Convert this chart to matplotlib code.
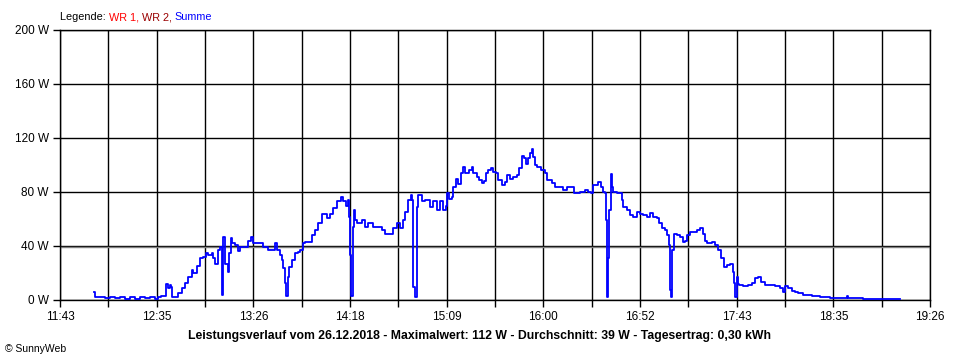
import numpy as np
import matplotlib
matplotlib.use("Agg")
import matplotlib.pyplot as plt

# Tagesverlauf 26.12.2018, Zeit in Minuten seit Mitternacht, Leistung in W
zeit = [721.1, 721.4, 724.3, 726.9, 729.6, 732.3, 734.9, 737.6, 740.3, 742.9,
        745.6, 748.2, 750.9, 753.6, 755.2, 756.7, 758.9, 759.4, 760.5, 761.5,
        762.1, 762.6, 764.7, 765.8, 767.8, 769.5, 771.1, 773.1, 773.8, 775.7,
        777.5, 779.1, 780.5, 781.8, 783.7, 784.4, 785.5, 786.9, 788.1, 789.1,
        789.7, 790.8, 792.2, 792.9, 794.0, 794.7, 796.1, 797.6, 798.8, 800.5,
        802.0, 803.2, 804.6, 805.9, 807.7, 810.3, 811.0, 813.0, 813.7, 816.4,
        817.4, 818.6, 820.1, 821.0, 821.8, 822.7, 823.3, 824.2, 825.0, 826.3,
        828.1, 829.8, 830.7, 832.2, 833.4, 835.7, 837.0, 838.7, 840.5, 842.3,
        844.0, 845.3, 846.7, 848.1, 850.3, 852.4, 853.8, 855.2, 856.1, 857.0,
        857.3, 857.9, 858.8, 859.5, 860.0, 861.2, 863.6, 865.3, 867.1, 869.7,
        872.4, 874.2, 876.0, 878.6, 880.4, 882.2, 883.9, 885.4, 886.6, 888.4,
        889.6, 890.5, 891.0, 892.1, 892.8, 893.7, 895.5, 897.2, 899.9, 901.7,
        903.5, 905.2, 906.7, 908.4, 909.1, 910.2, 911.5, 912.3, 913.7, 915.0,
        916.2, 917.3, 918.5, 920.8, 922.1, 923.0, 924.8, 926.1, 927.4, 928.6,
        929.7, 930.9, 932.2, 933.6, 935.0, 936.3, 938.1, 939.8, 941.0, 942.5,
        944.2, 946.0, 947.4, 948.7, 949.9, 951.0, 952.2, 953.1, 954.0, 954.9,
        955.8, 957.0, 958.8, 960.2, 961.1, 962.3, 964.7, 966.4, 969.1, 970.8,
        972.7, 975.3, 976.5, 979.7, 982.4, 984.2, 985.4, 986.8, 987.7, 989.5,
        990.8, 991.8, 992.9, 993.4, 993.9, 994.3, 994.8, 995.2, 996.1, 996.6,
        997.5, 999.3, 1000.7, 1001.9, 1002.8, 1004.6, 1006.3, 1008.1, 1009.9, 1011.7,
        1013.4, 1015.2, 1017.0, 1018.7, 1020.6, 1021.9, 1023.2, 1025.0, 1026.2, 1026.9,
        1027.6, 1028.3, 1028.9, 1029.8, 1031.2, 1033.0, 1034.4, 1035.6, 1036.5, 1038.3,
        1040.0, 1041.8, 1043.6, 1045.0, 1046.3, 1047.5, 1049.8, 1051.6, 1053.3, 1054.6,
        1056.4, 1057.8, 1059.6, 1061.0, 1061.7, 1062.1, 1063.1, 1064.0, 1064.5, 1066.6,
        1069.3, 1071.1, 1072.9, 1074.6, 1075.9, 1078.2, 1080.9, 1083.5, 1086.2, 1087.9,
        1088.8, 1090.6, 1092.4, 1094.2, 1095.9, 1098.6, 1103.0, 1107.5, 1112.8, 1121.3,
        1121.8, 1122.4, 1130.3, 1134.1, 1139.4, 1144.7, 1150.0]
leistung = [6, 2, 2.5, 1.5, 2.5, 1.5, 2, 1, 2, 1,
            2, 1.5, 2, 1, 2, 3, 3, 12, 9, 11,
            10, 2.5, 2.5, 5.4, 9, 12.6, 17, 22, 20, 25,
            31, 32, 35, 33, 35, 31, 27, 37, 39.5, 3.7,
            47, 27, 21, 35, 46, 42, 40.7, 36, 39.5, 39.5,
            39.5, 44, 47, 42, 42, 42, 39.5, 39.5, 37, 37,
            42, 37, 33, 29.6, 23.5, 12.6, 3, 17, 24.7, 29.6,
            34.6, 35.8, 37, 42, 43, 43, 48, 52, 57, 64,
            64, 60.5, 64, 68, 73, 76, 73.6, 70, 74, 61.7,
            33, 3, 54, 66.7, 59, 57, 59, 54, 57, 54,
            54, 52, 49, 49, 53, 57, 53, 59, 65, 74,
            78, 74, 10, 2.5, 69, 78, 73, 74, 69, 73,
            66.7, 73, 66.7, 70, 79, 75, 76.5, 84, 90, 86,
            94, 98.8, 94, 96, 98.8, 94, 91, 89, 86.4, 88,
            94, 96, 97.5, 95, 94, 89, 85, 87.6, 92.6, 90,
            91, 92.6, 97.5, 107, 105, 101, 105, 108.6, 112, 106,
            100, 98.8, 96, 96, 94, 89, 86.4, 84, 84, 81.5,
            84, 84, 79, 80, 81.5, 80, 79, 85, 85, 87.6,
            84, 80, 79, 59, 17, 2.5, 31, 66.7, 93, 84,
            80, 79, 79, 74, 69, 66.7, 63, 61.7, 65.4, 64,
            63, 61.7, 64.7, 61.7, 60.5, 57, 53, 52, 48, 40.7,
            7.4, 2.5, 37, 49, 48, 47, 43, 44, 48, 50.6,
            50.6, 52, 53, 49, 44, 42, 43, 40.7, 37, 31,
            24.7, 26, 27, 21, 12.3, 2.5, 17, 12, 11, 10.4,
            11, 12.3, 16, 17, 13.6, 11, 11, 10.4, 8.6, 6,
            10.4, 8.6, 7, 6, 5, 3.7, 3, 2, 1.2, 1.2,
            3, 1.2, 1, 0.6, 0.8, 0.6, 0.6]

durchschnitt = 39
t_start, t_ende = 703, 1166  # 11:43 .. 19:26
x_labels = ["11:43", "12:35", "13:26", "14:18", "15:09",
            "16:00", "16:52", "17:43", "18:35", "19:26"]
y_ticks = [0, 40, 80, 120, 160, 200]

plt.rcParams['font.family'] = ['Liberation Sans', 'DejaVu Sans']

fig = plt.figure(figsize=(9.6, 3.6), dpi=100)
ax = fig.add_axes([60 / 960, 60 / 360, 870 / 960, 270 / 360])

# grid: vertical every half label step, horizontal every 40 W
x_grid = np.linspace(t_start, t_ende, 19)
for xv in x_grid:
    ax.axvline(xv, color='black', lw=1.0, zorder=1)
for yv in y_ticks:
    ax.axhline(yv, color='black', lw=1.0, zorder=1)
ax.axhline(durchschnitt, color='#808080', lw=1.0, zorder=1)

ax.plot(zeit, leistung, color='#0000ff', lw=1.3, zorder=3,
        drawstyle='steps-post')

ax.set_xlim(t_start, t_ende)
ax.set_ylim(0, 200)
ax.set_xticks(x_grid)
ax.set_xticklabels([x_labels[i // 2] if i % 2 == 0 else "" for i in range(19)])
ax.set_yticks(y_ticks)
ax.set_yticklabels([f"{v} W" for v in y_ticks])
ax.tick_params(direction='out', length=5, width=1.0, color='black',
               labelsize=8.5, pad=3)
for s in ax.spines.values():
    s.set_linewidth(1.0)

fig.text(0.5, 1 - 336 / 360,
         "Leistungsverlauf vom 26.12.2018 - Maximalwert: 112 W - "
         "Durchschnitt: 39 W - Tagesertrag: 0,30 kWh",
         ha='center', va='center', fontsize=8.8, fontweight='bold')
fig.text(5 / 960, 1 - 349 / 360, "\u00a9 SunnyWeb", ha='left', va='center',
         fontsize=7.5)

# legend line built from pieces of coloured text
renderer = fig.canvas.get_renderer()
x0 = 60 / 960
for txt, col in [("Legende: ", 'black'), ("WR 1, ", '#ff0000'),
                 ("WR 2, ", '#990000'), ("Summe", '#0000ff')]:
    t = fig.text(x0, 1 - 17 / 360, txt, color=col, ha='left', va='center',
                 fontsize=7.8)
    bb = t.get_window_extent(renderer)
    x0 += bb.width / fig.bbox.width

fig.savefig("out.png", dpi=100)
